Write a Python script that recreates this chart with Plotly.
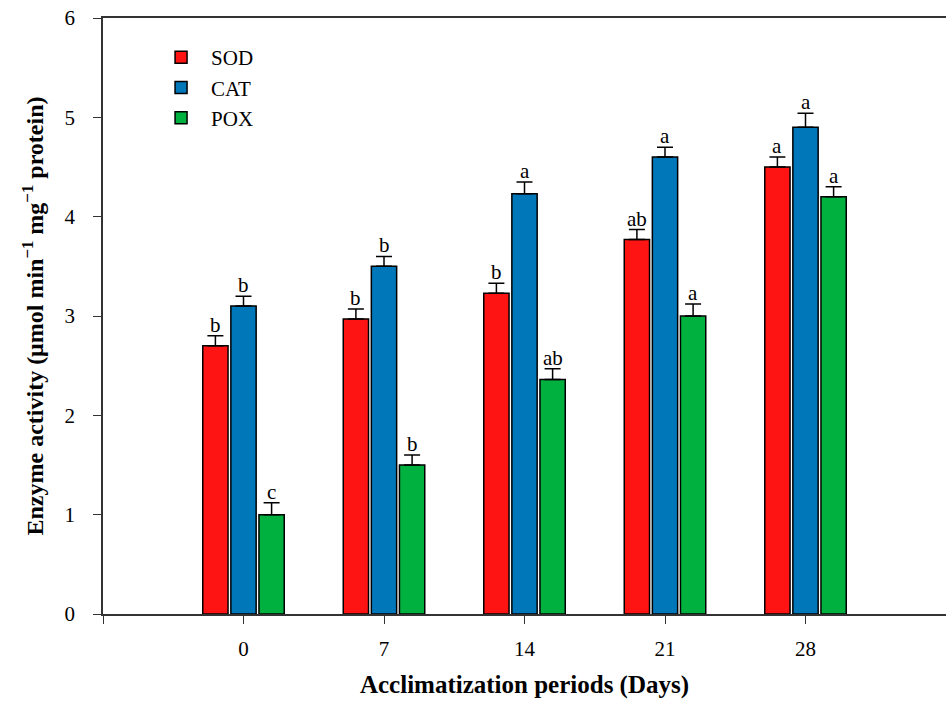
import plotly.graph_objects as go

categories = ["0", "7", "14", "21", "28"]
positions = [1, 2, 3, 4, 5]
sod = [2.70, 2.97, 3.23, 3.77, 4.50]
sod_err = [0.10, 0.10, 0.10, 0.10, 0.10]
sod_lbl = ["b", "b", "b", "ab", "a"]
cat = [3.10, 3.50, 4.23, 4.60, 4.90]
cat_err = [0.10, 0.10, 0.12, 0.10, 0.14]
cat_lbl = ["b", "b", "a", "a", "a"]
pox = [1.00, 1.50, 2.36, 3.00, 4.20]
pox_err = [0.12, 0.10, 0.11, 0.12, 0.10]
pox_lbl = ["c", "b", "ab", "a", "a"]

FONT = "Liberation Serif"
series = [
    ("SOD", sod, sod_err, sod_lbl, "#FF1414"),
    ("CAT", cat, cat_err, cat_lbl, "#0077B8"),
    ("POX", pox, pox_err, pox_lbl, "#00B140"),
]

fig = go.Figure()
for name, vals, errs, lbls, col in series:
    fig.add_trace(go.Bar(
        x=positions, y=vals, name=name,
        marker=dict(color=col, line=dict(color="black", width=1.5)),
        error_y=dict(type="data", array=errs, arrayminus=[0]*len(errs),
                     symmetric=False, color="black", thickness=1.5, width=8),
    ))

offsets = [-0.2, 0.0, 0.2]
for (name, vals, errs, lbls, col), off in zip(series, offsets):
    for p, v, e, l in zip(positions, vals, errs, lbls):
        fig.add_annotation(x=p + off, y=v + e, text=l, showarrow=False,
                           yanchor="bottom", yshift=-3,
                           font=dict(family=FONT, size=21, color="black"))

fig.update_layout(
    width=949, height=702,
    margin=dict(l=103, r=3, t=18, b=88),
    paper_bgcolor="white", plot_bgcolor="white",
    barmode="group", bargap=0.40, bargroupgap=0.1,
    font=dict(family=FONT, size=21, color="black"),
    showlegend=True,
    legend=dict(x=0.057, y=0.968, xanchor="left", yanchor="top",
                bgcolor="rgba(0,0,0,0)", font=dict(family=FONT, size=21),
                tracegroupgap=0, itemwidth=50),
    xaxis=dict(range=[0, 6], tickvals=[0] + positions, ticktext=[" "] + categories,
               showgrid=False, zeroline=False, showline=True, linecolor="#333",
               linewidth=1.5, mirror=True, ticks="outside", ticklen=8,
               tickwidth=1.2, tickcolor="#333", ticklabelstandoff=7,
               automargin=False, ticklabeloverflow="allow",
               tickfont=dict(family=FONT, size=21),
               title=dict(text="<b>Acclimatization periods (Days)</b>",
                          font=dict(family=FONT, size=25), standoff=16)),
    yaxis=dict(range=[0, 6], tickvals=[0, 1, 2, 3, 4, 5, 6],
               showgrid=False, zeroline=False, showline=True, linecolor="#333",
               linewidth=1.5, ticks="outside", ticklen=8, tickwidth=1.2,
               tickcolor="#333", ticklabelstandoff=14, automargin=False,
               ticklabeloverflow="allow",
               tickfont=dict(family=FONT, size=21),
               title=dict(text="<b>Enzyme activity (μmol min<sup>−1</sup> mg<sup>−1</sup> protein)</b>",
                          font=dict(family=FONT, size=24), standoff=14)),
)

fig.write_html("out.html", config={"displayModeBar": False},
               post_script="document.body.style.margin='0';document.body.style.overflow='hidden';")
